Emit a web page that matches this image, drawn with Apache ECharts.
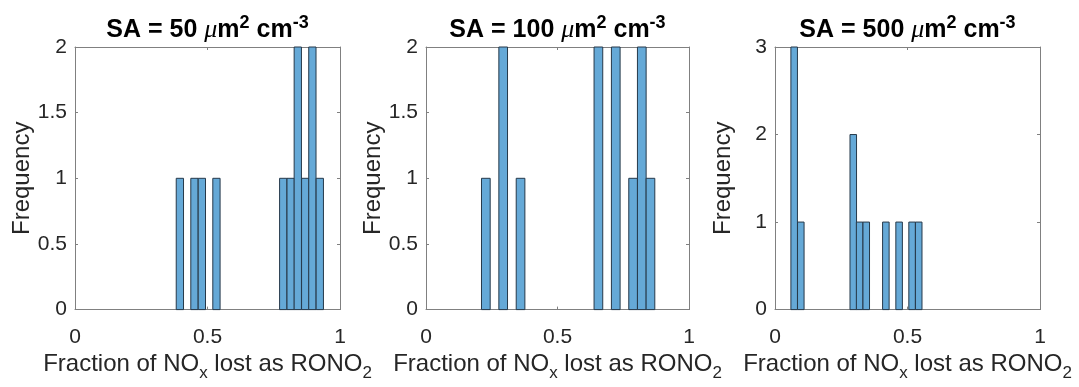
<!DOCTYPE html>
<html>
<head>
<meta charset="utf-8">
<script src="https://cdn.jsdelivr.net/npm/echarts@6/dist/echarts.min.js"></script>
<style>
html,body{margin:0;padding:0;background:#fff;}
#chart{width:1079px;height:387px;}
</style>
</head>
<body>
<div id="chart"></div>
<script>
// ---- Data ----
var panelTitles = ['50', '100', '500'];

// Panel 1: SA = 50
var binWidth1 = 0.0275;
var binLeft1 = [0.382, 0.437, 0.465, 0.520, 0.772, 0.800, 0.827, 0.855, 0.882, 0.910];
var counts1  = [1, 1, 1, 1, 1, 1, 2, 1, 2, 1];

// Panel 2: SA = 100
var binWidth2 = 0.033;
var binLeft2 = [0.211, 0.277, 0.343, 0.639, 0.705, 0.771, 0.804, 0.837];
var counts2  = [1, 2, 1, 2, 2, 1, 2, 1];

// Panel 3: SA = 500
var binWidth3 = 0.0247;
var binLeft3 = [0.060, 0.085, 0.283, 0.307, 0.332, 0.406, 0.456, 0.505, 0.530];
var counts3  = [3, 1, 2, 1, 1, 1, 1, 1, 1];

var xTicks = [0, 0.5, 1];
var yMax = [2, 2, 3];
var yInterval = [0.5, 0.5, 1];

// ---- Layout / style ----
var FONT = "'Liberation Sans', Arial, Helvetica, sans-serif";
var AX = '#808080';
var TXT = '#262626';
var FILL = '#65A9D7';
var EDGE = '#26394a';
var grids = [
  {left: 75, width: 265, top: 47, height: 269},
  {left: 426, width: 263, top: 47, height: 269},
  {left: 775, width: 265, top: 47, height: 269}
];

function buildTable(lefts, counts, w) {
  return lefts.map(function (l, i) { return [l, l + w, counts[i]]; });
}
var tables = [
  buildTable(binLeft1, counts1, binWidth1),
  buildTable(binLeft2, counts2, binWidth2),
  buildTable(binLeft3, counts3, binWidth3)
];

function fmtTick(v) { return String(v); }

var option = {
  animation: false,
  backgroundColor: '#fff',
  title: [],
  grid: grids,
  xAxis: [],
  yAxis: [],
  series: []
};

for (var i = 0; i < 3; i++) {
  var g = grids[i];
  option.title.push({
    text: 'SA = ' + panelTitles[i] + ' {it|μ}{b|m}{sup|2}{b| cm}{sup|-3}',
    left: g.left + g.width / 2,
    textAlign: 'center',
    top: 14,
    padding: 0,
    textStyle: {
      fontFamily: FONT, fontSize: 25, fontWeight: 'bold', color: '#000',
      rich: {
        it: {fontFamily: "'Liberation Serif', 'DejaVu Serif', serif", fontStyle: 'italic', fontWeight: 'normal', fontSize: 26, color: '#000'},
        b: {fontFamily: FONT, fontSize: 25, fontWeight: 'bold', color: '#000'},
        sup: {fontFamily: FONT, fontSize: 18, fontWeight: 'bold', color: '#000', padding: [0, 0, 15, 0]}
      }
    }
  });
  // bottom x axis
  option.xAxis.push({
    type: 'value', gridIndex: i, position: 'bottom',
    min: 0, max: 1, interval: 0.5,
    name: 'Fraction of NO{sub|x} lost as RONO{sub|2}',
    nameLocation: 'middle', nameGap: 33,
    nameTextStyle: {
      fontFamily: FONT, fontSize: 24, color: TXT,
      rich: {
        sub: {fontFamily: FONT, fontSize: 17, color: TXT, padding: [18, 0, 0, 0]}
      }
    },
    axisLine: {show: true, onZero: false, lineStyle: {color: AX, width: 1}},
    axisTick: {show: true, inside: true, length: 3, lineStyle: {color: AX}},
    axisLabel: {show: true, margin: 17, fontFamily: FONT, fontSize: 21, color: TXT, formatter: fmtTick},
    splitLine: {show: false}
  });
  // left y axis
  option.yAxis.push({
    type: 'value', gridIndex: i, position: 'left',
    min: 0, max: yMax[i], interval: yInterval[i],
    name: 'Frequency', nameLocation: 'middle', nameGap: 40,
    nameTextStyle: {fontFamily: FONT, fontSize: 24, color: TXT},
    axisLine: {show: true, onZero: false, lineStyle: {color: AX, width: 1}},
    axisTick: {show: true, inside: true, length: 3, lineStyle: {color: AX}},
    axisLabel: {show: true, margin: 8, fontFamily: FONT, fontSize: 21, color: TXT, formatter: fmtTick},
    splitLine: {show: false}
  });
}
for (var j = 0; j < 3; j++) {
  // top x axis (box)
  option.xAxis.push({
    type: 'value', gridIndex: j, position: 'top',
    min: 0, max: 1, interval: 0.5,
    axisLine: {show: true, onZero: false, lineStyle: {color: AX, width: 1}},
    axisTick: {show: true, inside: true, length: 3, lineStyle: {color: AX}},
    axisLabel: {show: false}, splitLine: {show: false}
  });
  // right y axis (box)
  option.yAxis.push({
    type: 'value', gridIndex: j, position: 'right',
    min: 0, max: yMax[j], interval: yInterval[j],
    axisLine: {show: true, onZero: false, lineStyle: {color: AX, width: 1}},
    axisTick: {show: true, inside: true, length: 3, lineStyle: {color: AX}},
    axisLabel: {show: false}, splitLine: {show: false}
  });
}

for (var k = 0; k < 3; k++) {
  option.series.push({
    type: 'custom',
    xAxisIndex: k, yAxisIndex: k,
    data: tables[k],
    encode: {x: [0, 1], y: 2},
    renderItem: function (params, api) {
      var p0 = api.coord([api.value(0), api.value(2)]);
      var p1 = api.coord([api.value(1), 0]);
      return {
        type: 'rect',
        shape: {x: p0[0], y: p0[1], width: p1[0] - p0[0], height: p1[1] - p0[1]},
        style: {fill: FILL, stroke: EDGE, lineWidth: 1}
      };
    }
  });
}

var chart = echarts.init(document.getElementById('chart'), null, {renderer: 'canvas'});
chart.setOption(option);
</script>
</body>
</html>
